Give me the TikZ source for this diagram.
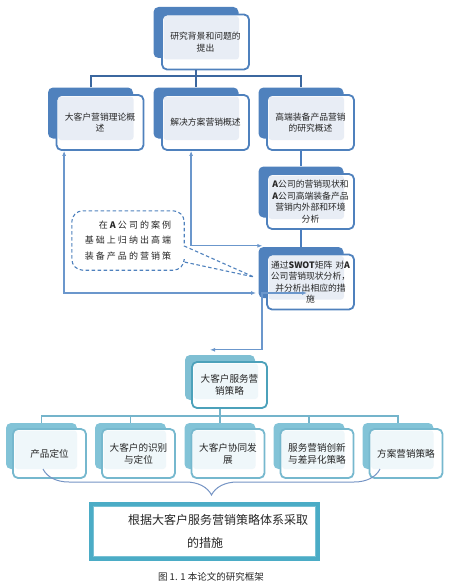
\documentclass[tikz,border=0pt]{standalone}
\usepackage{fontspec}
\setmainfont{Noto Sans CJK SC}
\newfontfamily\notefont[LetterSpace=23]{Noto Sans CJK SC}
\usetikzlibrary{arrows.meta,decorations.pathreplacing}

\definecolor{boxblue}{HTML}{4F81BD}
\definecolor{boxpale}{HTML}{E8EDF5}
\definecolor{treeblue}{HTML}{3B679F}
\definecolor{colblue}{HTML}{4A7DBE}
\definecolor{linkblue}{HTML}{6B97CC}
\definecolor{tealfill}{HTML}{82C3D7}
\definecolor{tealedge}{HTML}{76B8CE}
\definecolor{tealdark}{HTML}{4CA1BA}
\definecolor{stratfill}{HTML}{7FBFD3}
\definecolor{tealpale}{HTML}{EFF7FA}
\definecolor{tealtree}{HTML}{74B4CB}
\definecolor{frameteal}{HTML}{4BACC6}
\definecolor{bracecol}{HTML}{7594C4}
\definecolor{textgray}{HTML}{262626}

\tikzset{
  backbox/.style={rectangle, rounded corners=5pt, fill=boxblue, inner sep=0pt,
    minimum width=85pt, minimum height=51pt},
  frontbox/.style={rectangle, rounded corners=5pt, draw=boxblue, line width=1.8pt, fill=white,
    minimum width=87pt, minimum height=55pt, text width=81pt, inner sep=2pt, align=center,
    text=textgray, font=\fontsize{8.8}{11.5}\selectfont,
    path picture={\fill[boxpale, rounded corners=3pt]
      ([xshift=1.5pt,yshift=-1.5pt]path picture bounding box.north west) rectangle
      ([xshift=-10pt,yshift=10pt]path picture bounding box.south east);}},
  tealback/.style={rectangle, rounded corners=5pt, fill=tealfill, inner sep=0pt,
    minimum width=71pt, minimum height=46pt},
  tealfront/.style={rectangle, rounded corners=5pt, draw=tealedge, line width=1.8pt, fill=white,
    minimum width=73pt, minimum height=49pt, text width=68pt, inner sep=2pt, align=center,
    text=textgray, font=\fontsize{9.6}{12}\selectfont,
    path picture={\fill[tealpale, rounded corners=3pt]
      ([xshift=1.5pt,yshift=-1.5pt]path picture bounding box.north west) rectangle
      ([xshift=-9pt,yshift=9pt]path picture bounding box.south east);}},
  stratback/.style={tealback, fill=stratfill, minimum width=70pt, minimum height=45pt},
  stratfront/.style={tealfront, draw=tealdark, minimum width=75pt, minimum height=46pt},
  topline/.style={draw=treeblue, line width=2pt},
  colline/.style={draw=colblue, line width=2pt},
  linkline/.style={draw=linkblue, line width=1.3pt,
    {Latex[length=5pt,width=4pt]}-{Latex[length=5pt,width=4pt]}},
  tealline/.style={draw=tealtree, line width=1.5pt},
  notetext/.style={minimum width=112pt, minimum height=59pt, align=right, inner sep=0pt,
    text=textgray, font=\notefont\fontsize{9}{15.5}\selectfont},
  calloutline/.style={draw=boxblue, line width=1.1pt, dash pattern=on 3.5pt off 2.5pt},
  finalbox/.style={rectangle, draw=frameteal, line width=4pt, minimum width=227pt,
    minimum height=55pt, text width=219pt, inner sep=4pt, align=left,
    text=textgray, font=\fontsize{12}{23}\selectfont},
  captiontext/.style={text=textgray, font=\fontsize{9.5}{11}\selectfont}
}

\begin{document}
\begin{tikzpicture}[x=1pt, y=-1pt]
  \useasboundingbox (0,0) rectangle (450,586);

  % top box
  \node[backbox] (tb) at (196,32.5) {};
  \node[frontbox] (tf) at ([shift={(9.5,9.5)}]tb.center) {研究背景和问题的\\提出};

  % second row
  \foreach \i/\x/\txt in {1/90.5/{大客户营销理论概\\述}, 2/196/解决方案营销概述,
                          3/301/{高端装备产品营销\\的研究概述}} {
    \node[backbox] (rb\i) at (\x,113) {};
    \node[frontbox] (rf\i) at ([shift={(9.5,9.5)}]rb\i.center) {\txt};
  }

  % right column
  \node[backbox] (ab) at (301,192) {};
  \node[frontbox] (af) at ([shift={(9.5,9.5)}]ab.center)
    {\textbf{A}公司的营销现状和\\\textbf{A}公司高端装备产品\\营销内外部和环境\\分析};
  \node[backbox] (sb) at (301,272.5) {};
  \node[frontbox] (sf) at ([shift={(9.5,9.5)}]sb.center)
    {通过\textbf{SWOT}矩阵 对\textbf{A}\\公司营销现状分析，\\并分析出相应的措\\施};

  % strategy box and bottom row
  \node[stratback] (stb) at (220,377.5) {};
  \node[stratfront] (stf) at ([shift={(9.5,7.5)}]stb.center) {大客户服务营\\销策略};
  \foreach \i/\x/\txt in {1/41.5/产品定位, 2/130.5/{大客户的识别\\与定位},
                          3/220/{大客户协同发\\展}, 4/309/{服务营销创新\\与差异化策略},
                          5/398/方案营销策略} {
    \node[tealback] (pb\i) at (\x,446) {};
    \node[tealfront] (pf\i) at ([shift={(8,7.5)}]pb\i.center) {\txt};
  }

  % final box
  \node[finalbox] (final) at (204.5,531.5)
    {\hspace*{33pt}根据大客户服务营销策略体系采取\\\hspace*{92pt}的措施};
  \draw[frameteal!75, line width=0.8pt] ([xshift=4.5pt,yshift=-4.5pt]final.north west)
    rectangle ([xshift=-4.5pt,yshift=4.5pt]final.south east);
  \node[captiontext] (caption) at (211,577) {图 1. 1 本论文的研究框架};

  % note
  \node[notetext] (note) at (128,240.5) {在\textbf{A}公司的案例\\基础上归纳出高端\\装备产品的营销策};
  \coordinate (note tip) at (254,277);
  \draw[calloutline] (note.north east) -- ([yshift=-5.5pt]note.east) -- (note tip)
    -- ([yshift=-21.5pt]note.east) [rounded corners=11pt] -- (note.south east)
    -- (note.south west) -- (note.north west) -- cycle;

  % tree lines
  \draw[topline] (tb.south |- tf.south) -- (rb2.north);
  \draw[topline] (rb1.north) -- ++(0,-11) -| (rb3.north);
  \draw[colline] (rb3.south |- rf3.south) -- (ab.north);
  \draw[colline] (ab.south |- af.south) -- (sb.north);
  \draw[tealline] (stb.south |- stf.south) -- (pb3.north);
  \draw[tealline] (pb1.north) -- ++(0,-7) -| (pb5.north);
  \draw[tealline] (pb2.north) -- ++(0,-7);
  \draw[tealline] (pb4.north) -- ++(0,-7);

  % links
  \coordinate (swot low) at (256,293);
  \draw[linkline] ([xshift=8.5pt]rf1.south west) |- (swot low);
  \draw[linkline] ([xshift=30pt]rf2.south west) |- ([xshift=4pt,yshift=1pt]sb.north west);
  \coordinate (swot tip) at (307,293);
  \draw[linkline] (swot tip) -- ++(-45,0) |- ([xshift=-10pt,yshift=5pt]stb.north);

  % brace
  \coordinate (brace l) at (43,469);
  \coordinate (brace r) at (380,469);
  \draw[bracecol, line width=1pt, decorate, decoration={brace, mirror, amplitude=26pt}]
    (brace l) -- (brace r);
\end{tikzpicture}
\end{document}
